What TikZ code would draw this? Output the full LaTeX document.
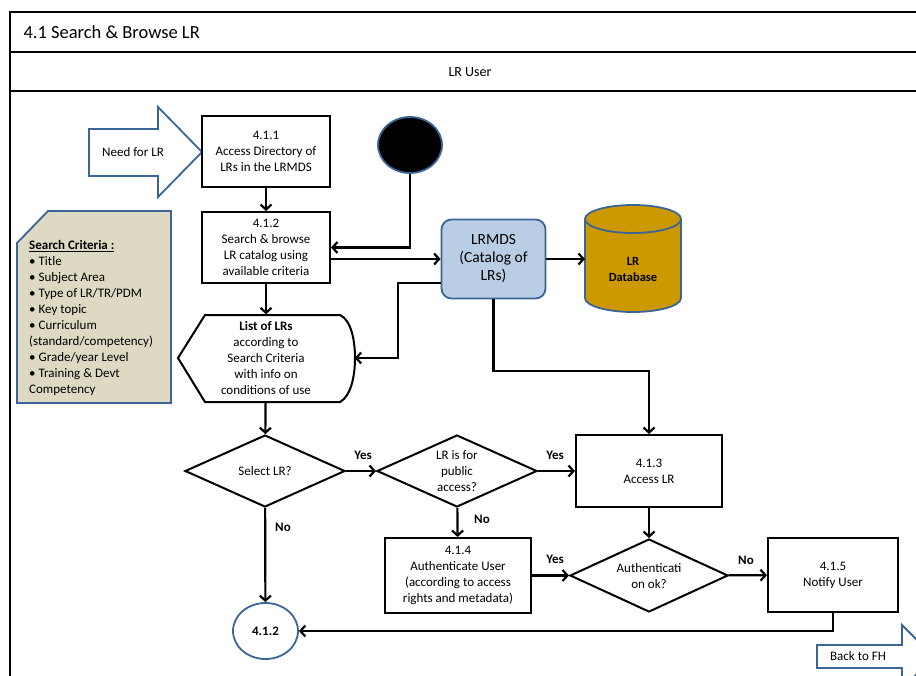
\documentclass[tikz,border=0pt]{standalone}
\usepackage{fontspec}
\setmainfont{Carlito}
\usetikzlibrary{shapes.geometric,arrows.meta,calc}
\definecolor{bl}{HTML}{3A6596}
\definecolor{notefill}{HTML}{DDD9C3}
\definecolor{lrmfill}{HTML}{B9CDE5}
\definecolor{dbfill}{HTML}{CC9900}
\newcommand{\bodyfont}{\fontsize{13}{16}\selectfont}
\begin{document}
\begin{tikzpicture}[x=1pt,y=-1pt,
  proc/.style={draw, line width=2pt, align=center, font=\bodyfont, inner sep=2pt},
  dec/.style={draw, diamond, line width=2pt, inner sep=0pt},
  dtext/.style={align=center, font=\bodyfont},
  conn/.style={line width=2.2pt, -{Straight Barb[length=5pt,width=11pt]}},
  plain/.style={line width=2.2pt},
  yn/.style={font=\bodyfont\bfseries},
  frame/.style={line width=1.8pt},
  blueshape/.style={draw=bl, line width=1.8pt}
]
\useasboundingbox (0,0) rectangle (916,675);
\clip (0,0) rectangle (916,675);

% frame
\draw[frame] (10,690) -- (10,12) -- (930,12);
\draw[frame] (10,52) -- (930,52);
\draw[frame] (10,91) -- (930,91);
\node[anchor=west, font=\fontsize{18.5}{22}\selectfont] (title) at (20,32) {4.1 Search \& Browse LR};
\node[font=\fontsize{14}{16}\selectfont] (lane) at (470,72) {LR User};

% Need for LR block arrow
\draw[blueshape, fill=white] (89,129) -- (158,129) -- (158,107) -- (202,152) -- (158,197) -- (158,176) -- (89,176) -- cycle;
\node[font=\bodyfont] (need) at (133,152) {Need for LR};

% search criteria note
\draw[blueshape, fill=notefill] (17,243) -- (48,211) -- (171,211) -- (171,403) -- (17,403) -- cycle;
\node[anchor=west, align=left, font=\bodyfont, inner sep=0pt] (crit) at (29,318)
 {\textbf{\underline{Search Criteria :}}\\
  • Title\\
  • Subject Area\\
  • Type of LR/TR/PDM\\
  • Key topic\\
  • Curriculum\\
  (standard/competency)\\
  • Grade/year Level\\
  • Training \& Devt\\
  Competency};

% processes
\node[proc, minimum width=128pt, minimum height=71pt] (p411) at (266,151.5) {4.1.1\\Access Directory of\\LRs in the LRMDS};
\node[proc, minimum width=128pt, minimum height=71pt] (p412) at (266,247.5) {4.1.2\\Search \& browse\\LR catalog using\\available criteria};

% start circle
\node[ellipse, draw=bl, fill=black, line width=1.8pt, minimum width=64pt, minimum height=56pt] (start) at (410,145) {};

% LRMDS
\node[draw=bl, fill=lrmfill, rounded corners=10pt, line width=1.8pt, minimum width=104pt, minimum height=79pt, align=center, font=\fontsize{15.5}{18}\selectfont] (lrmds) at (493.5,259) {LRMDS\\(Catalog of\\LRs)};

% database cylinder
\path[blueshape, fill=dbfill] (585,219) -- (585,298) arc[start angle=180, end angle=360, x radius=48pt, y radius=14pt] -- (681,219) arc[start angle=0, end angle=180, x radius=48pt, y radius=14pt] -- cycle;
\draw[blueshape] (585,219) arc[start angle=180, end angle=360, x radius=48pt, y radius=14pt];
\node[align=center, font=\fontsize{12.5}{16}\selectfont\bfseries, minimum width=96pt, minimum height=107pt] (db) at (633,269) {LR\\Database};

% list of LRs (display shape)
\node[dtext, minimum width=177pt, minimum height=87pt] (list) at (266,358) {\textbf{List of LRs}\\according to\\Search Criteria\\with info on\\conditions of use};
\draw[line width=2pt] (205,315) -- (340,315) .. controls (351,320) and (355,340) .. (355,358) .. controls (355,376) and (351,396) .. (340,402) -- (205,402) -- (178,358) -- cycle;

% decisions
\node[dec, minimum width=160pt, minimum height=72pt] (sel) at (265,471) {};
\node[dtext] (selt) at (sel) {Select LR?};
\node[dec, minimum width=160pt, minimum height=72pt] (pub) at (457,471) {};
\node[dtext] (pubt) at (pub) {LR is for\\public\\access?};
\node[proc, minimum width=146pt, minimum height=72pt] (p413) at (649,471) {4.1.3\\Access LR};
\node[proc, minimum width=146pt, minimum height=75pt] (p414) at (458,575.5) {4.1.4\\Authenticate User\\(according to access\\rights and metadata)};
\node[dec, minimum width=158pt, minimum height=73pt] (auth) at (649,575.5) {};
\node[dtext] (autht) at (649,576) {Authenticati\\on ok?};
\node[proc, minimum width=130pt, minimum height=74pt] (p415) at (833,575) {4.1.5\\Notify User};

% connector circle
\node[ellipse, draw=bl, fill=white, line width=1.8pt, minimum width=65pt, minimum height=56pt, font=\bodyfont\bfseries] (c412) at (265.5,631) {4.1.2};

% Back to FH block arrow
\draw[blueshape, fill=white] (817,645) -- (902,645) -- (902,625) -- (934,657) -- (902,689) -- (902,668) -- (817,668) -- cycle;
\node[font=\bodyfont] (back) at (858,656) {Back to FH};

% connectors
\draw[conn] (p411) -- (p412);
\draw[conn] (start.south) |- (p412.east);
\draw[conn] (p412.east |- lrmds.west) -- (lrmds.west);
\draw[conn] (lrmds.east) -- (lrmds.east -| 585,0);
\draw[conn] ($(lrmds.west)+(0,24)$) -- (398,283) |- (list.east);
\draw[conn] (p412) -- (list);
\draw[conn] (list) -- (sel);
\draw[conn] (sel) -- (pub);
\draw[conn] (pub) -- (p413);
\draw[conn] (lrmds.south) -- (lrmds.south |- 0,371) -| (p413.north);
\draw[conn] (pub) -- (p414);
\draw[conn] (p413) -- (auth);
\draw[conn] (p414) -- (auth);
\draw[conn] (auth) -- (p415);
\draw[conn] (p415.south) |- (c412.east);
\draw[conn] (sel) -- (c412);

% labels
\node[yn] (y1) at (363,455) {Yes};
\node[yn] (y2) at (555,455) {Yes};
\node[yn] (y3) at (555,559) {Yes};
\node[yn] (n1) at (283,527) {No};
\node[yn] (n2) at (482,519) {No};
\node[yn] (n3) at (746,560) {No};
\end{tikzpicture}
\end{document}
